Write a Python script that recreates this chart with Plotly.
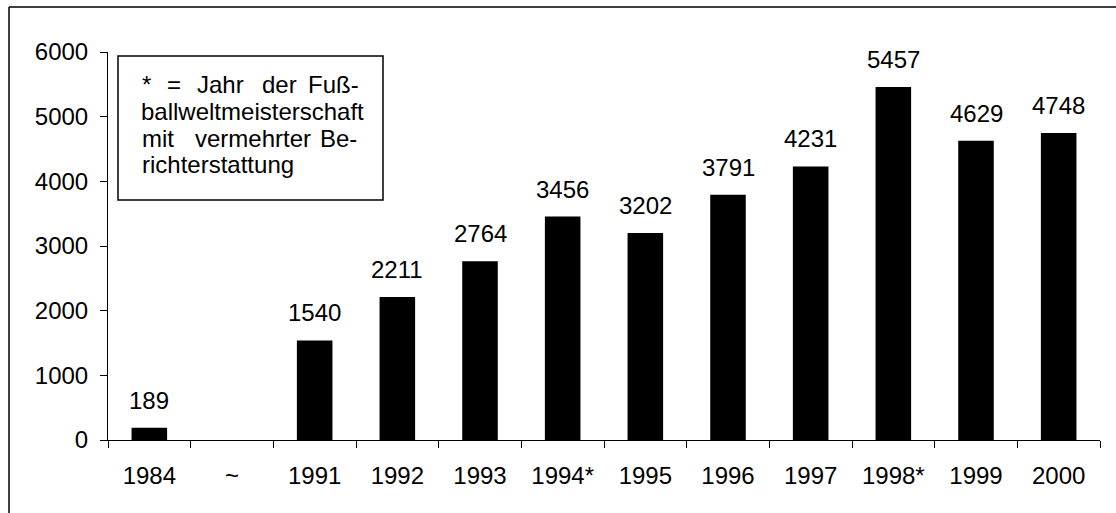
import plotly.graph_objects as go

categories = ["1984", "~", "1991", "1992", "1993", "1994*", "1995", "1996", "1997", "1998*", "1999", "2000"]
values = [189, None, 1540, 2211, 2764, 3456, 3202, 3791, 4231, 5457, 4629, 4748]
y_ticks = [0, 1000, 2000, 3000, 4000, 5000, 6000]

W, H = 1116, 513
L, R, T, B = 108, 16, 52, 73
PW, PH = W - L - R, H - T - B


def px_x(x):
    return (x - L) / PW


def px_y(y):
    return (H - B - y) / PH


FONT = "Liberation Sans, Arial, sans-serif"
FS = 24

fig = go.Figure()
fig.add_trace(go.Bar(x=categories, y=values, marker=dict(color="black", line=dict(width=0)),
                     hoverinfo="x+y"))

annotations = []
for i, v in enumerate(values):
    if v is None:
        continue
    annotations.append(dict(x=i, y=v, xref="x", yref="y", text=str(v), showarrow=False,
                            yanchor="bottom", yshift=12,
                            font=dict(family=FONT, size=FS, color="black")))

# justified text inside the note box: (word, px, line center px, anchor)
box_words = [
    ("*", 140, 84, "left"), ("=", 165, 84, "left"), ("Jahr", 195, 84, "left"),
    ("der", 260, 84, "left"), ("Fuß-", 361, 84, "right"),
    ("ballweltmeisterschaft", 139, 111, "left"),
    ("mit", 140, 138, "left"), ("vermehrter", 193, 138, "left"), ("Be-", 359, 138, "right"),
    ("richterstattung", 140, 164, "left"),
]
for w, xp, yp, anc in box_words:
    annotations.append(dict(x=px_x(xp), y=px_y(yp), xref="paper", yref="paper", text=w,
                            showarrow=False, xanchor=anc, yanchor="middle",
                            font=dict(family=FONT, size=FS, color="black")))

shapes = [
    dict(type="rect", xref="paper", yref="paper", x0=px_x(118), x1=px_x(383),
         y0=px_y(200), y1=px_y(56), line=dict(color="black", width=1.5), fillcolor="white",
         layer="below"),
    dict(type="line", xref="paper", yref="paper", x0=px_x(9), x1=px_x(1130),
         y0=px_y(7), y1=px_y(7), line=dict(color="black", width=1.5)),
    dict(type="line", xref="paper", yref="paper", x0=px_x(9), x1=px_x(9),
         y0=px_y(7), y1=px_y(530), line=dict(color="black", width=1.5)),
]

fig.update_layout(
    width=W, height=H,
    margin=dict(l=L, r=R, t=T, b=B, pad=0, autoexpand=False),
    paper_bgcolor="white", plot_bgcolor="white",
    showlegend=False,
    bargap=0.57,
    font=dict(family=FONT, size=FS, color="black"),
    annotations=annotations,
    shapes=shapes,
    xaxis=dict(type="category", categoryorder="array", categoryarray=categories,
               range=[-0.5, len(categories) - 0.5], tickangle=0, automargin=False,
               showline=True, linecolor="black", linewidth=1,
               ticks="outside", tickson="boundaries", ticklen=7, tickcolor="black", tickwidth=1,
               showgrid=False, zeroline=False, ticklabelstandoff=14,
               tickfont=dict(family=FONT, size=FS, color="black")),
    yaxis=dict(range=[0, 6000], tickvals=y_ticks, ticktext=[str(t) for t in y_ticks],
               automargin=False,
               showline=True, linecolor="black", linewidth=1,
               ticks="outside", ticklen=7, tickcolor="black", tickwidth=1,
               showgrid=False, zeroline=False, ticklabelstandoff=7,
               tickfont=dict(family=FONT, size=FS, color="black")),
)

fig.write_html("out.html", config={"displayModeBar": False},
               post_script="document.body.style.margin='0px';document.body.style.overflow='hidden';")
